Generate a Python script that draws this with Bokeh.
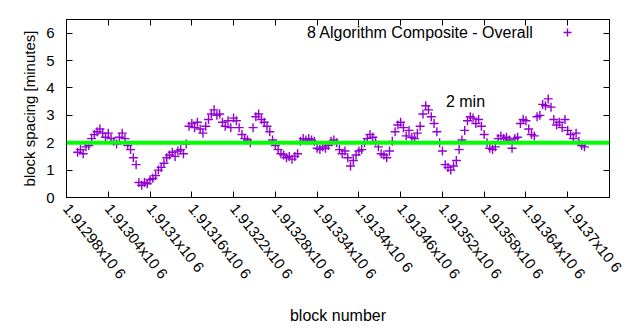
import math
from bokeh.plotting import figure
from bokeh.models import Range1d, FixedTicker, LinearAxis, Span, Label, Legend, LegendItem
from bokeh.embed import file_html
from bokeh.resources import INLINE

blocks = [
    1912996, 1913000, 1913004, 1913008, 1913012, 1913016, 1913020, 1913024, 1913028, 1913032,
    1913036, 1913040, 1913044, 1913048, 1913052, 1913056, 1913060, 1913064, 1913068, 1913072,
    1913076, 1913080, 1913084, 1913088, 1913092, 1913096, 1913100, 1913104, 1913108, 1913112,
    1913116, 1913120, 1913124, 1913128, 1913132, 1913136, 1913140, 1913144, 1913148, 1913152,
    1913156, 1913160, 1913164, 1913168, 1913172, 1913176, 1913180, 1913184, 1913188, 1913192,
    1913196, 1913200, 1913204, 1913208, 1913212, 1913216, 1913220, 1913224, 1913228, 1913232,
    1913236, 1913240, 1913244, 1913248, 1913252, 1913256, 1913260, 1913264, 1913268, 1913272,
    1913276, 1913280, 1913284, 1913288, 1913292, 1913296, 1913300, 1913304, 1913308, 1913312,
    1913316, 1913320, 1913324, 1913328, 1913332, 1913336, 1913340, 1913344, 1913348, 1913352,
    1913356, 1913360, 1913364, 1913368, 1913372, 1913376, 1913380, 1913384, 1913388, 1913392,
    1913396, 1913400, 1913404, 1913408, 1913412, 1913416, 1913420, 1913424, 1913428, 1913432,
    1913436, 1913440, 1913444, 1913448, 1913452, 1913456, 1913460, 1913464, 1913468, 1913472,
    1913476, 1913480, 1913484, 1913488, 1913492, 1913496, 1913500, 1913504, 1913508, 1913512,
    1913516, 1913520, 1913524, 1913528, 1913532, 1913536, 1913540, 1913544, 1913548, 1913552,
    1913556, 1913560, 1913564, 1913568, 1913572, 1913576, 1913580, 1913584, 1913588, 1913592,
    1913596, 1913600, 1913604, 1913608, 1913612, 1913616, 1913620, 1913624, 1913628, 1913632,
    1913636, 1913640, 1913644, 1913648, 1913652, 1913656, 1913660, 1913664, 1913668, 1913672,
    1913676, 1913680, 1913684, 1913688, 1913692, 1913696, 1913700, 1913704, 1913708, 1913712,
    1913716, 1913720, 1913724,
]

minutes = [
    1.65, 1.75, 1.60, 1.85, 1.90, 2.15, 2.30, 2.40, 2.50, 2.35,
    2.20, 2.35, 2.15, 2.05, 1.95, 2.20, 2.35, 2.15, 1.90, 1.75,
    1.45, 1.20, 0.55, 0.45, 0.55, 0.50, 0.65, 0.70, 0.80, 1.00,
    1.10, 1.25, 1.45, 1.55, 1.65, 1.50, 1.70, 1.75, 1.60, 1.95,
    2.60, 2.70, 2.55, 2.75, 2.50, 2.35, 2.60, 2.85, 3.05, 3.20,
    3.00, 3.05, 2.75, 2.60, 2.80, 2.55, 2.90, 2.80, 2.55, 2.30,
    2.15, 2.10, 2.00, 2.55, 2.95, 3.05, 2.85, 2.75, 2.60, 2.40,
    2.10, 1.90, 1.75, 1.60, 1.55, 1.45, 1.50, 1.40, 1.50, 1.60,
    2.05, 2.15, 2.10, 2.15, 2.10, 2.05, 1.80, 1.75, 1.85, 1.80,
    1.90, 2.05, 2.10, 2.00, 1.75, 1.60, 1.70, 1.45, 1.15, 1.35,
    1.55, 1.70, 1.75, 2.00, 2.15, 2.30, 2.20, 2.05, 1.85, 1.60,
    1.55, 1.45, 1.70, 2.05, 2.40, 2.65, 2.75, 2.55, 2.25, 2.45,
    2.20, 2.15, 2.35, 2.60, 3.05, 3.35, 3.20, 2.95, 2.70, 2.40,
    2.00, 1.70, 1.20, 1.10, 1.00, 1.15, 1.35, 1.75, 2.10, 2.45,
    2.80, 2.95, 2.90, 2.70, 2.85, 2.60, 2.30, 2.00, 1.80, 1.75,
    1.85, 2.15, 2.25, 2.15, 2.20, 2.10, 1.80, 2.15, 2.20, 2.70,
    2.85, 2.80, 2.50, 2.30, 2.25, 2.95, 3.00, 3.40, 3.35, 3.60,
    3.30, 2.85, 2.65, 2.75, 2.55, 2.85, 2.45, 2.30, 2.15, 2.35,
    2.05, 1.90, 1.85,
]

x_ticks = [1912980, 1913040, 1913100, 1913160, 1913220, 1913280, 1913340,
           1913400, 1913460, 1913520, 1913580, 1913640, 1913700, 1913760]
x_tick_labels = ["1.91298x10 6", "1.91304x10 6", "1.9131x10 6", "1.91316x10 6",
                 "1.91322x10 6", "1.91328x10 6", "1.91334x10 6", "1.9134x10 6",
                 "1.91346x10 6", "1.91352x10 6", "1.91358x10 6", "1.91364x10 6",
                 "1.9137x10 6", "1.91376x10 6"]
y_ticks = [0, 1, 2, 3, 4, 5, 6]

target_minutes = 2
series_name = "8 Algorithm Composite - Overall"
note_text = "2 min"

FONT = "Liberation Sans"
FS = "15px"
FS_BIG = "16px"
PURPLE = "#9400D3"

p = figure(width=640, height=330, output_backend="svg", toolbar_location=None,
           x_range=Range1d(x_ticks[0], x_ticks[-1]), y_range=Range1d(0, 6.5),
           min_border_left=66, min_border_right=31, min_border_top=19, min_border_bottom=133)
p.xgrid.visible = False
p.ygrid.visible = False
p.outline_line_color = "black"
p.background_fill_color = "white"
p.border_fill_color = "white"

r = p.scatter(blocks, minutes, marker="cross", size=9, line_color=PURPLE, line_width=1.4)

p.add_layout(Span(location=target_minutes, dimension="width", line_color="#00FF00", line_width=4))

# bottom axis: the last tick sits on the right border; its label would run off the page
xa = p.xaxis[0]
xa.ticker = FixedTicker(ticks=x_ticks[:-1])
xa.major_label_overrides = {t: s for t, s in zip(x_ticks, x_tick_labels)}
xa.major_label_orientation = -0.9

ya = p.yaxis[0]
ya.ticker = FixedTicker(ticks=y_ticks)

for ax in (xa, ya):
    ax.major_tick_in = 6
    ax.major_tick_out = 0
    ax.minor_tick_in = 0
    ax.minor_tick_out = 0
    ax.axis_line_color = "black"
    ax.major_tick_line_color = "black"
    ax.major_label_text_font = FONT
    ax.major_label_text_font_size = FS
    ax.major_label_text_color = "black"
    ax.axis_label_text_font = FONT
    ax.axis_label_text_font_style = "normal"
    ax.axis_label_text_color = "black"

xa.axis_label = "block number"
xa.axis_label_text_font_size = FS_BIG
xa.axis_label_standoff = 17
ya.axis_label = "block spacing [minutes]"
ya.axis_label_text_font_size = FS
ya.major_label_standoff = 12
xa.major_label_standoff = 8

# invisible spacer axis on the far left, nudges the y title away from the page edge
spacer = LinearAxis(ticker=FixedTicker(ticks=[0]), major_label_text_font_size="1px",
                    major_label_text_color=None, major_label_standoff=0,
                    major_tick_in=0, major_tick_out=8, minor_tick_in=0, minor_tick_out=0,
                    major_tick_line_color=None, minor_tick_line_color=None,
                    axis_line_color=None)
p.add_layout(spacer, "left")

top = LinearAxis(ticker=FixedTicker(ticks=x_ticks), major_label_text_font_size="1px",
                 major_label_text_color=None,
                 major_tick_in=6, major_tick_out=0, minor_tick_in=0, minor_tick_out=0,
                 major_label_standoff=0, axis_line_color="black")
p.add_layout(top, "above")
right = LinearAxis(ticker=FixedTicker(ticks=y_ticks), major_label_text_font_size="1px",
                   major_label_text_color=None,
                   major_tick_in=6, major_tick_out=0, minor_tick_in=0, minor_tick_out=0,
                   major_label_standoff=0, axis_line_color="black")
p.add_layout(right, "right")

p.add_layout(Label(x=1913525, y=3.5, text=note_text, text_font=FONT, text_font_size=FS_BIG,
                   text_color="black", text_baseline="middle", text_align="left"))
p.add_layout(Label(x=1913651, y=6.02, text=series_name, text_font=FONT, text_font_size=FS_BIG,
                   text_color="black", text_baseline="middle", text_align="right"))

leg = Legend(items=[LegendItem(label=" ", renderers=[r])], location=(491, 155),
             padding=0, margin=0, glyph_width=20, glyph_height=20, label_width=0,
             label_text_font_size="1px", label_text_color=None, border_line_color=None,
             background_fill_alpha=0)
p.add_layout(leg)

open("out.html", "w").write(file_html(p, INLINE))
